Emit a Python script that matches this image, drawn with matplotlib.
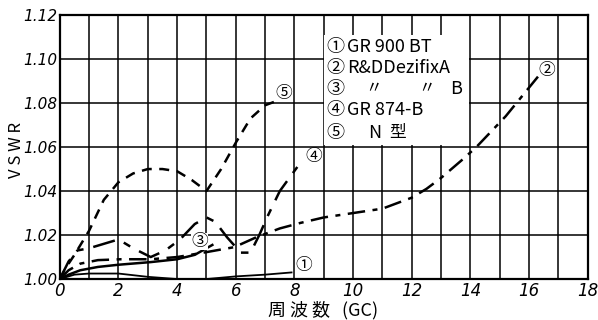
import numpy as np
import matplotlib
matplotlib.use("Agg")
import matplotlib.pyplot as plt
from matplotlib.patches import Rectangle

plt.rcParams['font.family'] = ['Noto Sans CJK JP', 'DejaVu Sans']

# ---- data (frequency in GC, VSWR) ----
x1 = [0, 0.5, 1.0, 2.0, 3.0, 4.0, 5.0, 6.0, 7.0, 7.9]
y1 = [1.000, 1.002, 1.0025, 1.0025, 1.001, 1.000, 1.000, 1.0012, 1.002, 1.003]

x2 = [0, 0.3, 0.7, 1.3, 2.1, 3.1, 4.0, 4.9, 5.95, 6.7, 7.5, 8.2, 9.0, 10.0,
      11.0, 12.0, 12.5, 13.0, 13.7, 14.2, 15.2, 16.3]
y2 = [1.000, 1.004, 1.007, 1.0086, 1.009, 1.009, 1.010, 1.012, 1.0145, 1.019,
      1.023, 1.0255, 1.028, 1.030, 1.032, 1.037, 1.041, 1.046, 1.054, 1.060,
      1.074, 1.092]

x3 = [0, 0.3, 0.7, 1.3, 2.0, 3.1, 4.0, 4.6, 5.2]
y3 = [1.000, 1.002, 1.004, 1.0055, 1.0065, 1.0077, 1.009, 1.011, 1.0155]

x4 = [0, 0.3, 0.6, 1.0, 1.5, 2.0, 2.5, 3.1, 3.6, 4.1, 4.6, 5.0, 5.3, 5.7,
      6.0, 6.15, 6.5, 6.8, 7.1, 7.5, 8.1]
y4 = [1.000, 1.008, 1.013, 1.014, 1.016, 1.018, 1.014, 1.010, 1.013, 1.018,
      1.025, 1.028, 1.026, 1.019, 1.0145, 1.012, 1.012, 1.020, 1.029, 1.040,
      1.051]

x5 = [0, 0.2, 0.5, 1.0, 1.5, 2.0, 2.5, 3.0, 3.5, 4.0, 4.5, 5.0, 5.5, 6.0,
      6.5, 7.0, 7.4]
y5 = [1.000, 1.005, 1.011, 1.022, 1.036, 1.044, 1.048, 1.050, 1.050, 1.049,
      1.045, 1.040, 1.050, 1.062, 1.073, 1.079, 1.081]

xticks = [0, 2, 4, 6, 8, 10, 12, 14, 16, 18]
yticks = [1.00, 1.02, 1.04, 1.06, 1.08, 1.10, 1.12]
ytick_labels = ['1.00', '1.02', '1.04', '1.06', '1.08', '1.10', '1.12']

legend_nums = ['①', '②', '③', '④', '⑤']

fig = plt.figure(figsize=(5.98, 3.2), dpi=100)
ax = fig.add_axes([0.100, 0.128, 0.883, 0.825])

ax.set_xlim(0, 18)
ax.set_ylim(1.00, 1.12)

# grid: every 1 GC vertically, every 0.02 horizontally
for gx in range(1, 18):
    ax.axvline(gx, color='black', lw=1.1, zorder=1)
for gy in yticks[1:-1]:
    ax.axhline(gy, color='black', lw=1.1, zorder=1)
for s in ax.spines.values():
    s.set_linewidth(1.6)

ax.set_xticks(xticks)
ax.set_yticks(yticks)
ax.set_xticklabels([str(t) for t in xticks], fontstyle='italic', fontsize=12,
                   family=['DejaVu Sans'])
ax.set_yticklabels(ytick_labels, fontstyle='italic', fontsize=11,
                   family=['DejaVu Sans'])
ax.tick_params(length=0, pad=2)

# curves
ax.plot(x1, y1, color='black', lw=1.3, zorder=3)
ax.plot(x2, y2, color='black', lw=1.8, dashes=(7, 3, 2, 3), zorder=3)
ax.plot(x3, y3, color='black', lw=1.8, zorder=3)
ax.plot(x4, y4, color='black', lw=1.8, dashes=(9, 4, 3, 4), zorder=3)
ax.plot(x5, y5, color='black', lw=1.8, dashes=(4, 3), zorder=3)

# labels on the curves
ax.text(8.33, 1.0062, '①', fontsize=12, ha='center', va='center', zorder=4)
ax.text(16.6, 1.095, '②', fontsize=12, ha='center', va='center', zorder=4)
ax.text(4.76, 1.017, '③', fontsize=12, ha='center', va='center', zorder=4,
        bbox=dict(fc='white', ec='none', pad=0))
ax.text(8.67, 1.0555, '④', fontsize=12, ha='center', va='center', zorder=4)
ax.text(7.65, 1.0845, '⑤', fontsize=12, ha='center', va='center', zorder=4)

# legend block (white patch over the grid)
ax.add_patch(Rectangle((9.0, 1.061), 4.95, 0.050, fc='white', ec='none', zorder=2))
ly = [1.1055, 1.0959, 1.0864, 1.0768, 1.0664]
for n, yy in zip(legend_nums, ly):
    ax.text(9.1, yy, n, fontsize=13, ha='left', va='center', zorder=4)
ax.text(9.8, ly[0], 'GR 900 BT', fontsize=13, va='center', zorder=4)
ax.text(9.8, ly[1], 'R&DDezifixA', fontsize=13, va='center', zorder=4)
ax.text(10.7, ly[2], '〃', fontsize=12, va='center', ha='center', zorder=4)
ax.text(12.5, ly[2], '〃', fontsize=12, va='center', ha='center', zorder=4)
ax.text(13.5, ly[2], 'B', fontsize=13, va='center', ha='center', zorder=4)
ax.text(9.8, ly[3], 'GR 874-B', fontsize=13, va='center', zorder=4)
ax.text(10.75, ly[4], 'N', fontsize=13, va='center', ha='center', zorder=4)
ax.text(11.5, ly[4], '型', fontsize=12, va='center', ha='center', zorder=4)

# axis titles placed in figure coords so they stay inside the canvas
fig.text(0.54, 0.030, '周 波 数   (GC)', fontsize=13, ha='center', va='center')
fig.text(0.028, 0.53, 'V S W R', fontsize=12, rotation=90,
         ha='center', va='center')

fig.savefig('out.png', dpi=100)
